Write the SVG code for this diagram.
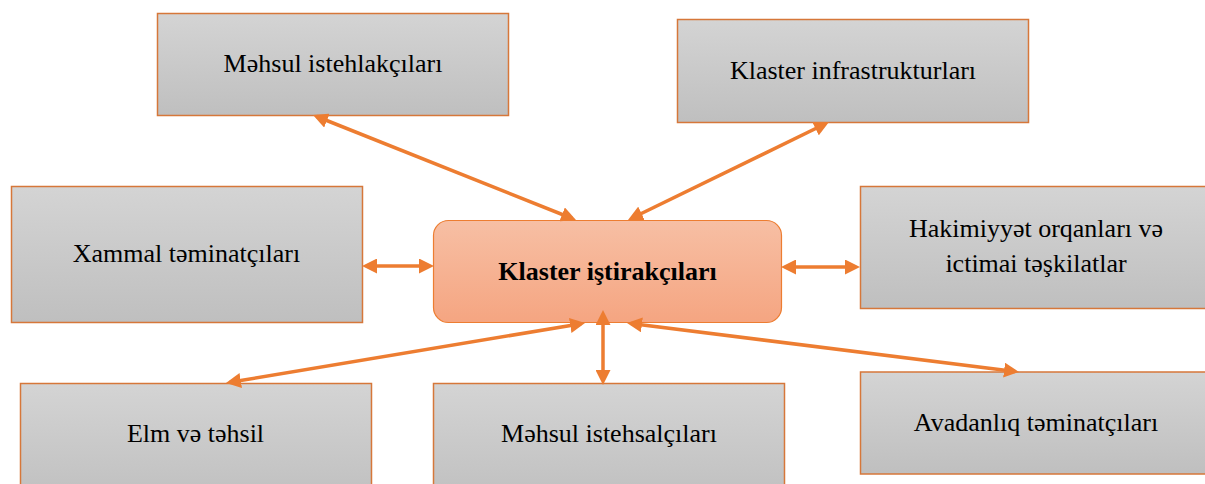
<svg xmlns="http://www.w3.org/2000/svg" width="1205" height="484" viewBox="0 0 1205 484">
<defs>
<linearGradient id="gGray" x1="0" y1="0" x2="0" y2="1">
<stop offset="0" stop-color="#d4d4d4"/>
<stop offset="1" stop-color="#bfbfbf"/>
</linearGradient>
<linearGradient id="gOrange" x1="0" y1="0" x2="0" y2="1">
<stop offset="0" stop-color="#f7bfa4"/>
<stop offset="1" stop-color="#f5a581"/>
</linearGradient>
<marker id="ah" markerUnits="userSpaceOnUse" markerWidth="15" markerHeight="15" viewBox="0 0 15 15" refX="11" refY="7.5" orient="auto-start-reverse">
<path d="M0,0 L15,7.5 L0,15 z" fill="#ed7d31"/>
</marker>
</defs>
<style>
.box{fill:url(#gGray);stroke:#d6773a;stroke-width:1.5}
.core{fill:url(#gOrange);stroke:#ed7d31;stroke-width:1.2}
.c{stroke:#ed7d31;stroke-width:3.5;fill:none;marker-start:url(#ah);marker-end:url(#ah)}
</style>
<rect width="1205" height="484" fill="#ffffff"/>
<g font-family="'Liberation Serif', serif" font-size="26" fill="#000000" text-anchor="middle">
<g id="n-center">
<rect class="core" x="433.5" y="220.5" width="348" height="102" rx="15"/>
<text x="607.5" y="279.5" font-weight="bold">Klaster iştirakçıları</text>
</g>
<g id="n-istehlakci">
<rect class="box" x="157.5" y="13.5" width="351" height="102"/>
<text x="333" y="72">Məhsul istehlakçıları</text>
</g>
<g id="n-infra">
<rect class="box" x="677.5" y="19.5" width="351" height="103"/>
<text x="853" y="78.5">Klaster infrastrukturları</text>
</g>
<g id="n-xammal">
<rect class="box" x="11.5" y="186.5" width="351" height="136"/>
<text x="186.5" y="262">Xammal təminatçıları</text>
</g>
<g id="n-hakimiyyet">
<rect class="box" x="860.5" y="186.5" width="352" height="122"/>
<text x="1036" y="237">Hakimiyyət orqanları və</text>
<text x="1036" y="272">ictimai təşkilatlar</text>
</g>
<g id="n-elm">
<rect class="box" x="20.5" y="383.5" width="351" height="120"/>
<text x="195.5" y="442">Elm və təhsil</text>
</g>
<g id="n-istehsalci">
<rect class="box" x="433.5" y="383.5" width="351" height="120"/>
<text x="609" y="442">Məhsul istehsalçıları</text>
</g>
<g id="n-avadanliq">
<rect class="box" x="860.5" y="372" width="352" height="102"/>
<text x="1036" y="431">Avadanlıq təminatçıları</text>
</g>
</g>
<g id="connectors">
<line class="c" x1="316.7" y1="116.5" x2="572.3" y2="218.5"/>
<line class="c" x1="825.4" y1="123.8" x2="631.6" y2="218.2"/>
<line class="c" x1="366" y1="266" x2="430" y2="266"/>
<line class="c" x1="785" y1="267" x2="856" y2="267"/>
<line class="c" x1="603" y1="314" x2="603" y2="381"/>
<line class="c" x1="581.1" y1="323.7" x2="229.9" y2="382.3"/>
<line class="c" x1="631" y1="323.5" x2="1015" y2="371.5"/>
</g>
</svg>
